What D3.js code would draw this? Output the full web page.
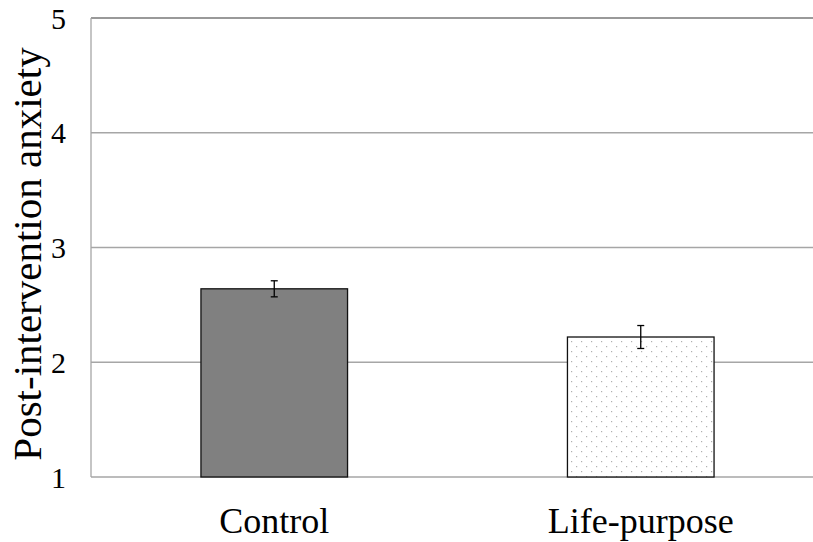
<!DOCTYPE html>
<html>
<head>
<meta charset="utf-8">
<script src="https://cdn.jsdelivr.net/npm/d3@7"></script>
<style>
  body { margin: 0; background: #fff; }
  text { font-family: "Liberation Serif", "DejaVu Serif", serif; fill: #000; }
</style>
</head>
<body>
<div id="chart"></div>
<script>
// data
var groups = ['Control', 'Life-purpose'];
var means = [2.64, 2.22];
var errs = [0.07, 0.1];
var yTicks = [1, 2, 3, 4, 5];

var width = 813, height = 542;
var margin = {top: 18, left: 91, bottom: 65};
var plotRight = 824; // plot runs past the right edge of the picture

var x = d3.scaleBand()
    .domain(groups)
    .range([margin.left, plotRight])
    .paddingInner(0.6)
    .paddingOuter(0.3);
var y = d3.scaleLinear().domain([1, 5]).range([height - margin.bottom, margin.top]);

var svg = d3.select('#chart')
    .append('svg')
    .attr('width', width)
    .attr('height', height);

var defs = svg.append('defs');
var pat = defs.append('pattern')
    .attr('id', 'dots')
    .attr('patternUnits', 'userSpaceOnUse')
    .attr('width', 10)
    .attr('height', 10);
pat.append('rect').attr('width', 10).attr('height', 10).attr('fill', '#fff');
pat.append('rect').attr('x', 1).attr('y', 1).attr('width', 1.2).attr('height', 1.2).attr('fill', '#b0b0b0');
pat.append('rect').attr('x', 6).attr('y', 6).attr('width', 1.2).attr('height', 1.2).attr('fill', '#b0b0b0');

// gridlines
svg.append('g')
    .selectAll('line')
    .data(yTicks)
    .join('line')
    .attr('x1', margin.left)
    .attr('x2', width)
    .attr('y1', function(d) { return y(d); })
    .attr('y2', function(d) { return y(d); })
    .attr('stroke', function(d) { return d === 5 ? '#777' : '#a6a6a6'; })
    .attr('stroke-width', function(d) { return d === 5 ? 1.6 : 1.3; });

// left axis line
svg.append('line')
    .attr('x1', margin.left).attr('x2', margin.left)
    .attr('y1', y(5)).attr('y2', y(1))
    .attr('stroke', '#a6a6a6')
    .attr('stroke-width', 1.3);

// tick labels
svg.append('g')
    .selectAll('text')
    .data(yTicks)
    .join('text')
    .attr('x', 66)
    .attr('y', function(d) { return y(d); })
    .attr('dy', '0.35em')
    .attr('text-anchor', 'end')
    .style('font-size', '30px')
    .text(function(d) { return d; });

// bars
svg.append('g')
    .selectAll('rect')
    .data(groups)
    .join('rect')
    .attr('x', function(d) { return x(d); })
    .attr('width', x.bandwidth())
    .attr('y', function(d, i) { return y(means[i]); })
    .attr('height', function(d, i) { return y(1) - y(means[i]); })
    .attr('fill', function(d, i) { return i === 0 ? '#808080' : 'url(#dots)'; })
    .attr('stroke', '#111')
    .attr('stroke-width', 1.3);

// error bars
var eb = svg.append('g')
    .selectAll('g')
    .data(groups)
    .join('g')
    .attr('stroke', '#000')
    .attr('stroke-width', 1.3);
eb.append('line')
    .attr('x1', function(d) { return x(d) + x.bandwidth() / 2; })
    .attr('x2', function(d) { return x(d) + x.bandwidth() / 2; })
    .attr('y1', function(d, i) { return y(means[i] + errs[i]); })
    .attr('y2', function(d, i) { return y(means[i] - errs[i]); });
[1, -1].forEach(function(s) {
  eb.append('line')
      .attr('x1', function(d) { return x(d) + x.bandwidth() / 2 - 3.5; })
      .attr('x2', function(d) { return x(d) + x.bandwidth() / 2 + 3.5; })
      .attr('y1', function(d, i) { return y(means[i] + s * errs[i]); })
      .attr('y2', function(d, i) { return y(means[i] + s * errs[i]); });
});

// category labels
svg.append('g')
    .selectAll('text')
    .data(groups)
    .join('text')
    .attr('x', function(d) { return x(d) + x.bandwidth() / 2; })
    .attr('y', 533)
    .attr('text-anchor', 'middle')
    .style('font-size', '36px')
    .text(function(d) { return d; });

// y axis title
svg.append('text')
    .attr('transform', 'translate(41,' + 254 + ') rotate(-90)')
    .attr('text-anchor', 'middle')
    .style('font-size', '41px')
    .text('Post-intervention anxiety');
</script>
</body>
</html>
